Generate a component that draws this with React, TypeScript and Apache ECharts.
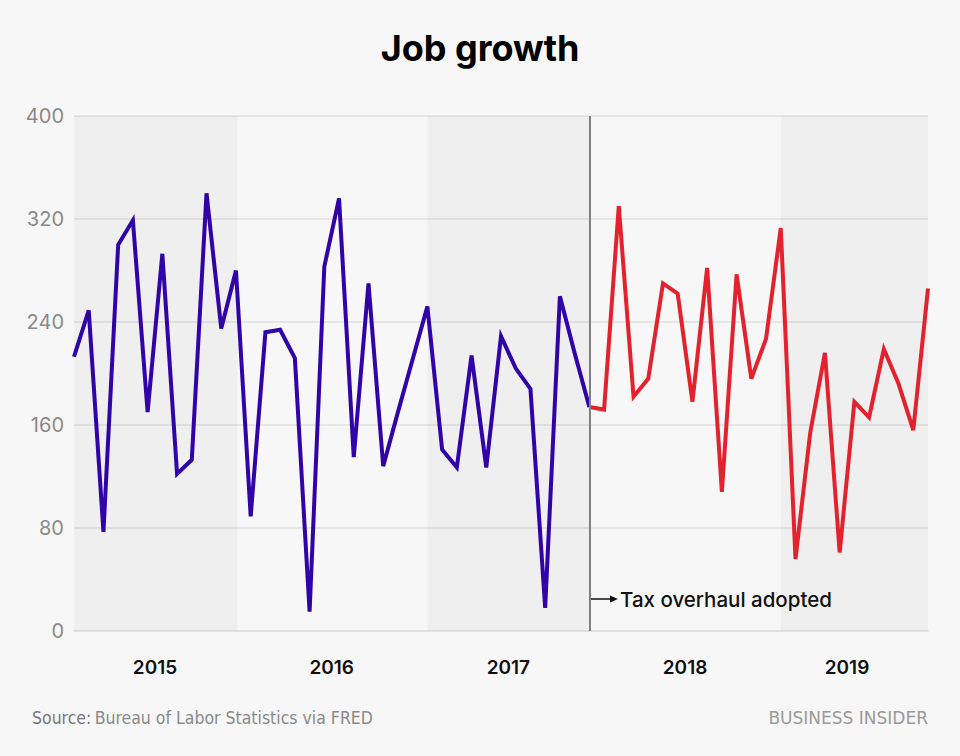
import React, { useEffect, useRef } from "react";
import * as echarts from "echarts";

// Monthly job gains, Jan 2015 – Nov 2019 (thousands)
const months: string[] = [];
for (let y = 2015; y <= 2019; y++) {
  for (let m = 1; m <= 12; m++) {
    if (y === 2019 && m > 11) break;
    months.push(`${y}-${String(m).padStart(2, "0")}`);
  }
}

// Before the tax overhaul (Jan 2015 – Dec 2017)
const beforeValues = [
  213, 249, 77, 300, 319, 170, 293, 122, 133, 340, 235, 280,
  89, 232, 234, 212, 15, 283, 336, 135, 270, 128, 170, 211,
  252, 141, 127, 214, 127, 229, 204, 188, 18, 260, 216, 174,
];
// After the tax overhaul (Dec 2017 – Nov 2019)
const afterValues = [
  174, 172, 330, 182, 196, 270, 262, 178, 282, 108, 277, 196, 227,
  313, 56, 154, 216, 61, 178, 166, 219, 192, 156, 266,
];
const afterStartIndex = 35;

const yTicks = [0, 80, 160, 240, 320, 400];
const yearLabels = ["2015", "2016", "2017", "2018", "2019"];
const yearLabelPos = [5.5, 17.5, 29.5, 41.5, 52.5];
// shaded year bands (month index ranges)
const shadedBands: [number, number][] = [
  [0, 11.1],
  [24, 35],
  [48, 58],
];
const taxIndex = 35;

export default function App() {
  const ref = useRef<HTMLDivElement>(null);
  useEffect(() => {
    if (!ref.current) return;
    const chart = echarts.init(ref.current, null, { renderer: "svg" });
    const beforeData = beforeValues.map((v, i) => [i, v]);
    const afterData = afterValues.map((v, i) => [afterStartIndex + i, v]);
    const lastIdx = months.length - 1;
    chart.setOption({
      animation: false,
      backgroundColor: "#f7f7f7",
      title: {
        text: "Job growth",
        left: "center",
        top: 25,
        textStyle: {
          fontFamily: "Inter",
          fontSize: 36,
          fontWeight: 700,
          color: "#000",
        },
      },
      grid: { left: 74, right: 32, top: 116, bottom: 125 },
      xAxis: {
        type: "value",
        min: 0,
        max: lastIdx,
        axisLine: { show: true, lineStyle: { color: "#dedede", width: 1.5 } },
        axisTick: { show: false },
        splitLine: { show: false },
        axisLabel: {
          customValues: yearLabelPos,
          formatter: (v: number) => {
            const k = yearLabelPos.indexOf(v);
            return k >= 0 ? yearLabels[k] : "";
          },
          margin: 27,
          fontFamily: "Inter",
          fontSize: 19,
          fontWeight: 600,
          color: "#111",
        },
      },
      yAxis: {
        type: "value",
        min: yTicks[0],
        max: yTicks[yTicks.length - 1],
        interval: 80,
        axisLine: { show: false },
        axisTick: { show: false },
        splitLine: { lineStyle: { color: "#e0e0e0", width: 1.5 } },
        axisLabel: {
          margin: 10,
          fontFamily: "Inter",
          fontSize: 20,
          color: "#8a8a8a",
        },
      },
      series: [
        {
          type: "line",
          data: beforeData,
          symbol: "none",
          lineStyle: { color: "#3004a8", width: 4, join: "miter" },
          z: 3,
          markArea: {
            silent: true,
            itemStyle: { color: "rgba(0,0,0,0.033)" },
            data: shadedBands.map(([a, b]) => [{ xAxis: a }, { xAxis: b }]),
          },
        },
        {
          type: "line",
          data: afterData,
          symbol: "none",
          lineStyle: { color: "#e4222d", width: 4, join: "miter" },
          z: 3,
          markLine: {
            silent: true,
            symbol: "none",
            label: { show: false },
            lineStyle: { color: "#808080", width: 2, type: "solid" },
            data: [{ xAxis: taxIndex }],
          },
        },
      ],
      graphic: [
        {
          type: "line",
          shape: { x1: 591, y1: 599, x2: 611, y2: 599 },
          style: { stroke: "#111", lineWidth: 1.5 },
        },
        {
          type: "polygon",
          shape: { points: [[618, 599], [610, 595.5], [610, 602.5]] },
          style: { fill: "#111" },
        },
        {
          type: "text",
          x: 620,
          y: 599,
          style: {
            text: "Tax overhaul adopted",
            fontFamily: "Inter",
            fontSize: 20.5,
            fontWeight: 500,
            fill: "#111",
            verticalAlign: "middle",
          },
        },
        {
          type: "text",
          x: 32,
          y: 718,
          style: {
            text: "{a|Source:} {b|Bureau of Labor Statistics via FRED}",
            verticalAlign: "middle",
            rich: {
              a: {
                fontFamily: "'DejaVu Sans Condensed', 'Roboto', sans-serif",
                fontSize: 17.5,
                fill: "#777",
              },
              b: {
                fontFamily: "'DejaVu Sans Condensed', 'Roboto', sans-serif",
                fontSize: 17.5,
                fill: "#8a8a8a",
              },
            },
          },
        },
        {
          type: "text",
          x: 928,
          y: 718,
          style: {
            text: "BUSINESS INSIDER",
            fontFamily: "DejaVu Sans",
            fontSize: 17,
            fill: "#9a9a9a",
            align: "right",
            verticalAlign: "middle",
          },
        },
      ],
    });
    return () => chart.dispose();
  }, []);
  return (
    <div
      ref={ref}
      style={{ position: "fixed", left: 0, top: 0, width: 960, height: 756 }}
    />
  );
}
